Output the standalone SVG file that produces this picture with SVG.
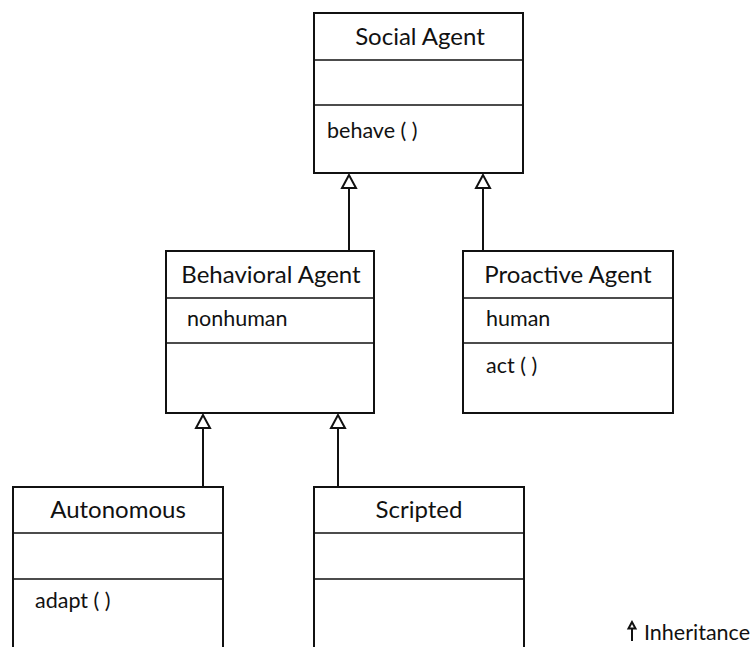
<svg xmlns="http://www.w3.org/2000/svg" width="754" height="647" viewBox="0 0 754 647">
  <style>
    .box { fill: #fff; stroke: #111; stroke-width: 2; }
    .sep { stroke: #111; stroke-width: 1.6; }
    .edge { stroke: #111; stroke-width: 2; fill: none; }
    .head { fill: #fff; stroke: #111; stroke-width: 2; stroke-linejoin: miter; }
    .title { font-family: Lato, "Open Sans", "Liberation Sans", sans-serif; font-size: 24px; fill: #111; text-anchor: middle; }
    .item { font-family: Lato, "Open Sans", "Liberation Sans", sans-serif; font-size: 21.5px; fill: #111; }
  </style>
  <rect width="754" height="647" fill="#fff"/>

  <!-- generalisation connectors -->
  <g id="connectors">
    <line class="edge" x1="349" y1="188" x2="349" y2="251"/>
    <polygon class="head" points="349,175 342,188 356,188"/>
    <line class="edge" x1="483" y1="188" x2="483" y2="251"/>
    <polygon class="head" points="483,175 476,188 490,188"/>
    <line class="edge" x1="203" y1="428" x2="203" y2="487"/>
    <polygon class="head" points="203,415 196,428 210,428"/>
    <line class="edge" x1="338" y1="428" x2="338" y2="487"/>
    <polygon class="head" points="338,415 331,428 345,428"/>
  </g>

  <g id="social-agent">
    <rect class="box" x="314" y="13" width="209" height="160"/>
    <line class="sep" x1="314" y1="60" x2="523" y2="60"/>
    <line class="sep" x1="314" y1="105" x2="523" y2="105"/>
    <text class="title" x="420" y="45">Social Agent</text>
    <text class="item" x="327" y="138">behave ( )</text>
  </g>

  <g id="behavioral-agent">
    <rect class="box" x="166" y="251" width="208" height="162"/>
    <line class="sep" x1="166" y1="298" x2="374" y2="298"/>
    <line class="sep" x1="166" y1="343" x2="374" y2="343"/>
    <text class="title" x="271" y="283">Behavioral Agent</text>
    <text class="item" x="187" y="326">nonhuman</text>
  </g>

  <g id="proactive-agent">
    <rect class="box" x="463" y="251" width="210" height="162"/>
    <line class="sep" x1="463" y1="298" x2="673" y2="298"/>
    <line class="sep" x1="463" y1="343" x2="673" y2="343"/>
    <text class="title" x="568" y="283">Proactive Agent</text>
    <text class="item" x="486" y="326">human</text>
    <text class="item" x="486" y="373">act ( )</text>
  </g>

  <g id="autonomous">
    <rect class="box" x="13" y="487" width="210" height="175"/>
    <line class="sep" x1="13" y1="533" x2="223" y2="533"/>
    <line class="sep" x1="13" y1="579" x2="223" y2="579"/>
    <text class="title" x="118" y="518">Autonomous</text>
    <text class="item" x="35" y="608">adapt ( )</text>
  </g>

  <g id="scripted">
    <rect class="box" x="314" y="487" width="210" height="175"/>
    <line class="sep" x1="314" y1="533" x2="524" y2="533"/>
    <line class="sep" x1="314" y1="579" x2="524" y2="579"/>
    <text class="title" x="419" y="518">Scripted</text>
  </g>

  <!-- legend -->
  <g id="legend">
    <line class="edge" x1="632" y1="628" x2="632" y2="641"/>
    <polygon class="head" points="632,622 628.5,628.5 635.5,628.5"/>
    <text class="item" x="644" y="640">Inheritance</text>
  </g>
</svg>
